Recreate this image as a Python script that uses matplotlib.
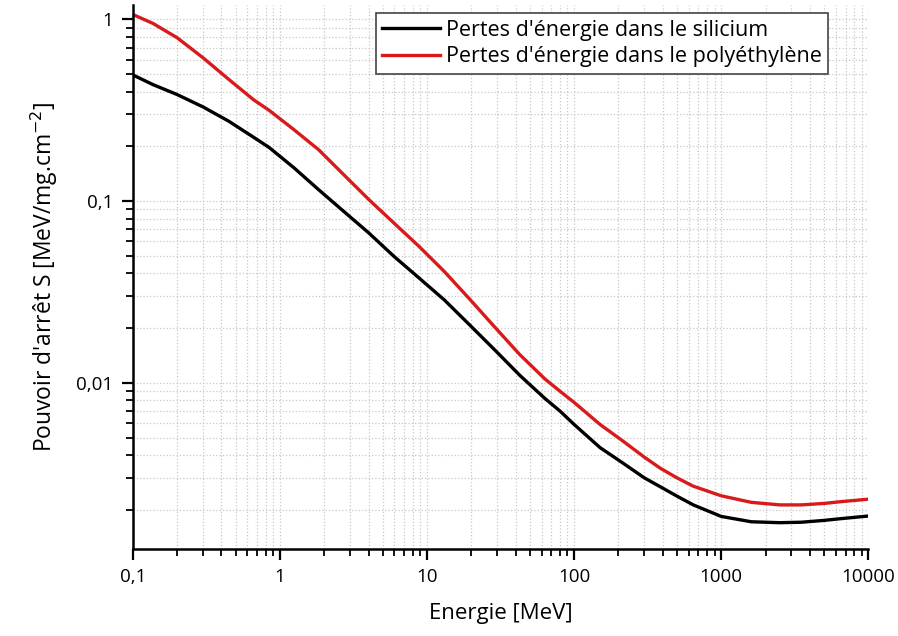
import matplotlib
matplotlib.use("Agg")
import matplotlib.pyplot as plt
from matplotlib.ticker import LogLocator, FixedLocator, FuncFormatter, NullFormatter

# valeurs (energie en MeV, S en MeV.cm2/mg)
energie = [0.1, 0.137, 0.2, 0.3, 0.45, 0.66, 0.84, 1.24, 1.83, 2.71, 4.02, 5.95, 8.81, 13.1, 19.4,
           28.8, 42.7, 63.3, 80, 100, 150, 206, 300, 385, 500, 645, 1000, 1600, 2500, 3500, 5000,
           6540, 10000]
s_silicium = [0.495, 0.438, 0.386, 0.330, 0.275, 0.225, 0.198, 0.153, 0.1157, 0.0879, 0.0668, 0.0497,
              0.0378, 0.0286, 0.0209, 0.0152, 0.0110, 0.0082, 0.0070, 0.0059, 0.0044, 0.0037, 0.0030,
              0.00268, 0.00238, 0.00213, 0.00184, 0.00172, 0.00170, 0.00171, 0.00175, 0.00179, 0.00185]
s_polyethylene = [1.065, 0.951, 0.793, 0.615, 0.467, 0.362, 0.317, 0.248, 0.192, 0.140, 0.102, 0.0758,
                  0.0564, 0.0410, 0.0290, 0.0203, 0.0143, 0.0105, 0.0090, 0.0078, 0.0059, 0.0049, 0.0039,
                  0.00339, 0.00300, 0.00270, 0.00239, 0.00220, 0.00213, 0.00213, 0.00217, 0.00222, 0.00229]

x_ticks = [0.1, 1, 10, 100, 1000, 10000]
x_labels = ["0,1", "1", "10", "100", "1000", "10000"]
y_ticks = [0.01, 0.1, 1]
y_labels = ["0,01", "0,1", "1"]

plt.rcParams['font.family'] = ['Open Sans', 'DejaVu Sans']

fig = plt.figure(figsize=(8.98, 6.36), dpi=100)
ax = fig.add_axes([0.148, 0.137, 0.819, 0.855])

ax.plot(energie, s_silicium, color="black", lw=2.4, label="Pertes d'énergie dans le silicium")
ax.plot(energie, s_polyethylene, color="#d91a1a", lw=2.4, label="Pertes d'énergie dans le polyéthylène")

ax.set_xscale("log")
ax.set_yscale("log")
ax.set_xlim(0.1, 10000)
ax.set_ylim(0.00122, 1.2)

ax.xaxis.set_major_locator(FixedLocator(x_ticks))
ax.xaxis.set_major_formatter(FuncFormatter(lambda v, p: x_labels[x_ticks.index(v)] if v in x_ticks else ""))
ax.xaxis.set_minor_locator(LogLocator(base=10, subs=range(2, 10), numticks=20))
ax.xaxis.set_minor_formatter(NullFormatter())
ax.yaxis.set_major_locator(FixedLocator(y_ticks))
ax.yaxis.set_major_formatter(FuncFormatter(lambda v, p: y_labels[y_ticks.index(v)] if v in y_ticks else ""))
ax.yaxis.set_minor_locator(LogLocator(base=10, subs=range(2, 10), numticks=20))
ax.yaxis.set_minor_formatter(NullFormatter())

ax.grid(True, which="both", color="#c8c8c8", linestyle=":", linewidth=0.9)
ax.set_axisbelow(True)

for side in ["top", "right"]:
    ax.spines[side].set_visible(False)
for side in ["left", "bottom"]:
    ax.spines[side].set_linewidth(1.8)

ax.tick_params(which="major", direction="out", length=8, width=1.6, labelsize=13.5, pad=6)
ax.tick_params(which="minor", direction="out", length=5, width=1.3)

ax.set_xlabel("Energie [MeV]", fontsize=16, labelpad=12)
ax.set_ylabel("Pouvoir d'arrêt S [MeV/mg.cm$^{-2}$]", fontsize=16.5, labelpad=12)

leg = ax.legend(loc="upper right", bbox_to_anchor=(0.945, 0.985), fontsize=15.5, fancybox=False,
                framealpha=1, edgecolor="#444444", handlelength=2.7, borderpad=0.3,
                labelspacing=0.25, handletextpad=0.25, borderaxespad=0)
leg.get_frame().set_linewidth(1.2)

plt.savefig("out.png", dpi=100)
